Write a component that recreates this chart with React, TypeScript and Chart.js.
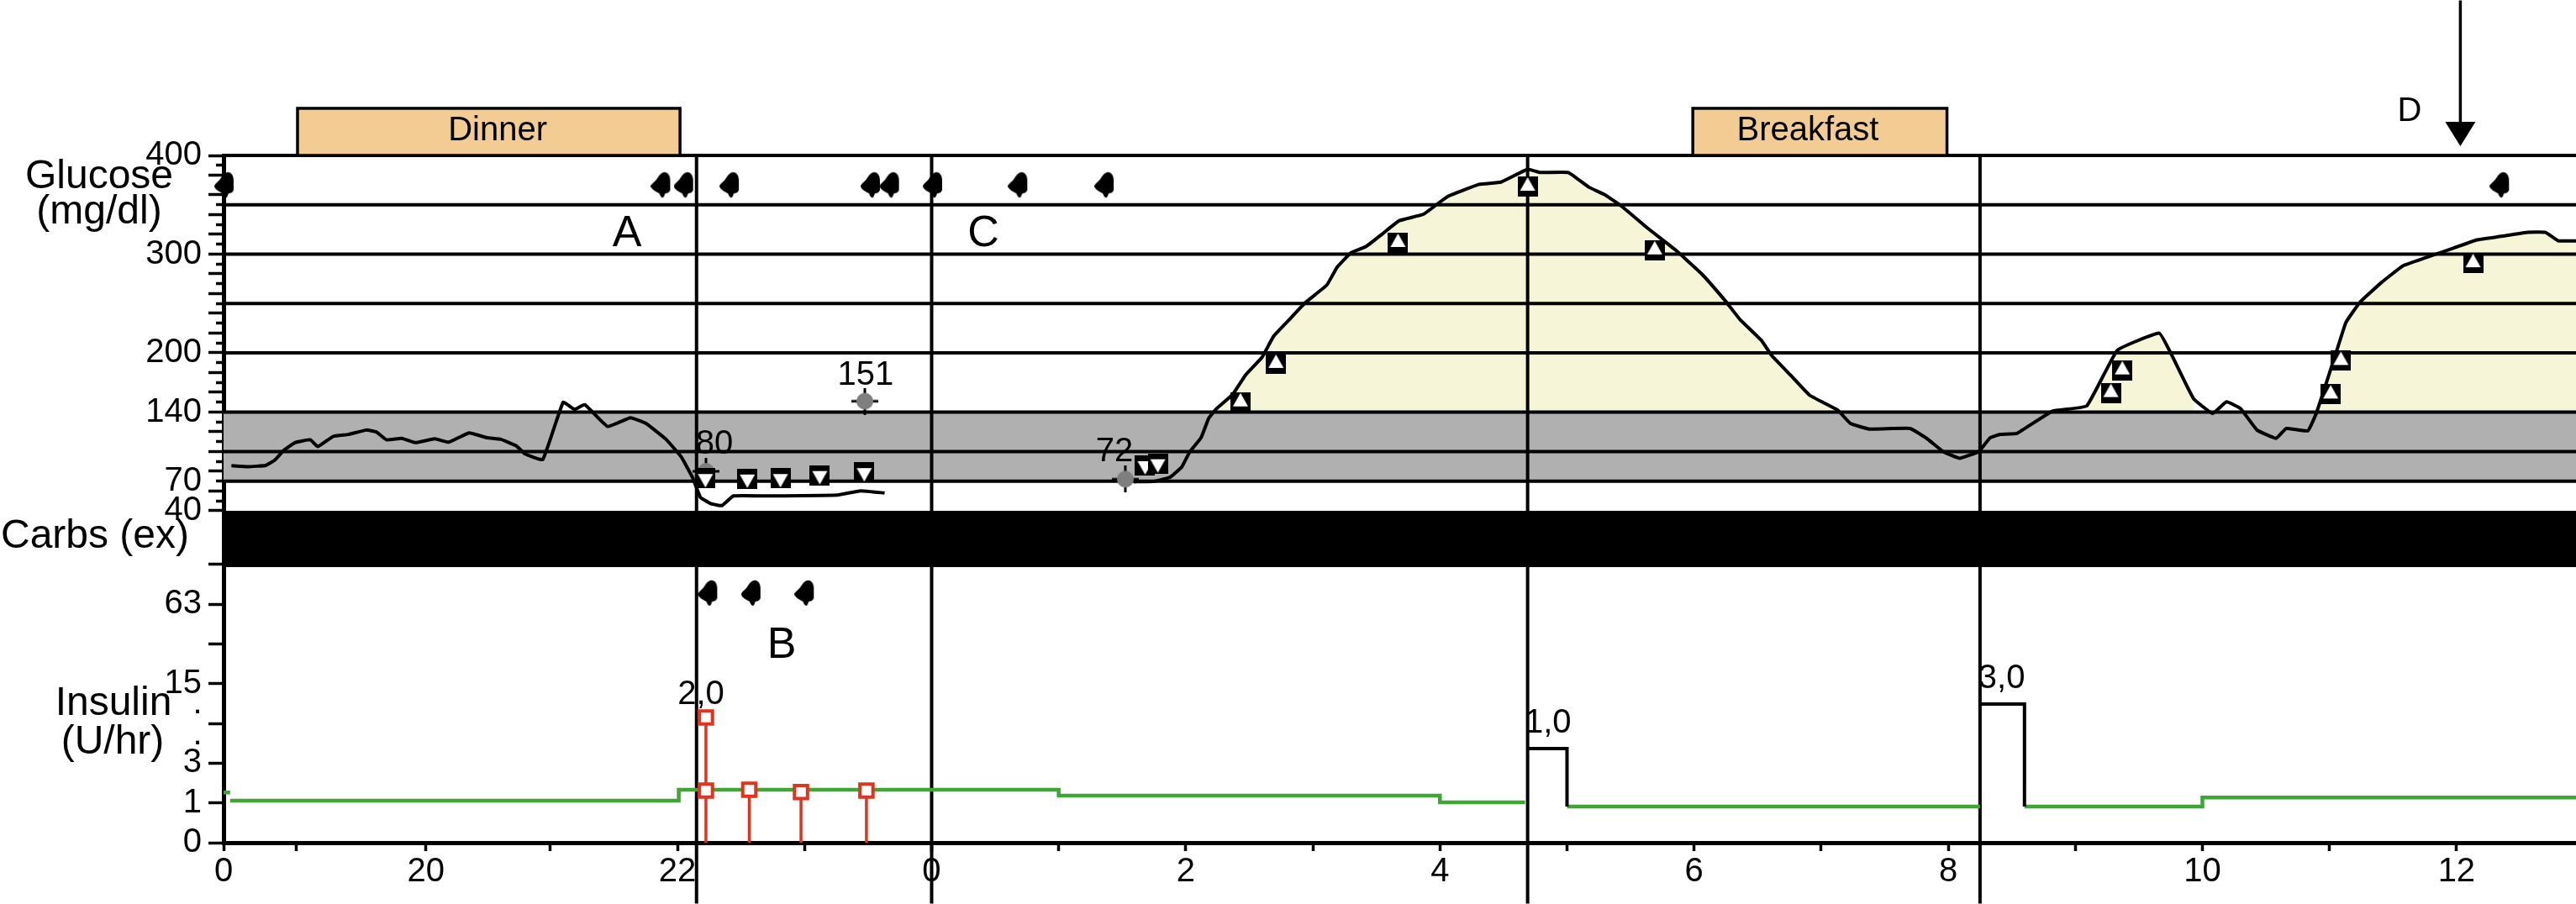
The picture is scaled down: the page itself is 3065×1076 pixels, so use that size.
import React, { useEffect, useRef } from "react";
import Chart from "chart.js/auto";

// ---- time axis (hours from midnight, negative = evening before) ----
const xStart = -5.572;
const xEnd = 12.94;
const xTickValues = [xStart, -5, -3.98, -3, -2, -1, 0, 1, 2, 3, 4, 5, 6, 7, 8, 9, 10, 11, 12];
const xTickLabels = ["0", "", "20", "", "22", "", "0", "", "2", "", "4", "", "6", "", "8", "", "10", "", "12"];

// ---- glucose axis ----
const glucoseLabelled = [400, 300, 200, 140, 70, 40];
const glucoseMajorTicks = [400, 380, 360, 340, 320, 300, 280, 260, 240, 220, 200, 180, 160, 140, 120, 100, 80, 70, 60, 40];
const glucoseMinorTicks = [390, 370, 350, 330, 310, 290, 270, 250, 230, 210, 190, 170, 150, 130, 110, 90, 70, 50];
const glucoseGridLines = [400, 350, 300, 250, 200, 140, 100, 70];

// ---- insulin axis (2^n - 1 steps) ----
const insulinTickValues = [0, 1, 3, 7, 15, 31, 63, 127];
const insulinTickLabels = ["0", "1", "3", "", "15", "", "63", ""];

// ---- CGM trace ----
const cgmHoursA = [-5.51, -5.38, -5.24, -5.17, -5.1, -5.01, -4.89, -4.83, -4.71, -4.59, -4.45, -4.37, -4.29, -4.17, -4.06, -3.91, -3.8, -3.64, -3.5, -3.39, -3.27, -3.2, -3.06, -2.9, -2.81, -2.73, -2.55, -2.37, -2.25, -2.09, -1.97, -1.88, -1.82, -1.74, -1.65, -1.56, -1.3, -0.74, -0.56, -0.37];
const cgmValuesA = [85.7, 84.7, 86, 91.2, 101, 109, 112, 105, 115.3, 117.3, 121.8, 119.9, 112, 113.4, 109.1, 113, 109.5, 119, 114, 112.4, 105.9, 97.7, 91.9, 149.9, 142.7, 147.6, 125.4, 134.2, 128.7, 112.4, 94.5, 73.3, 53.8, 47.3, 45.3, 55.1, 55.1, 56, 60.3, 58];
const cgmHoursB = [1.59, 1.76, 1.88, 1.97, 2.03, 2.12, 2.18, 2.24, 2.37, 2.47, 2.6, 2.69, 2.81, 2.94, 3.11, 3.19, 3.3, 3.42, 3.55, 3.68, 3.87, 4.06, 4.31, 4.48, 4.69, 4.79, 5.01, 5.17, 5.3, 5.43, 5.64, 5.85, 6.06, 6.25, 6.36, 6.53, 6.61, 6.76, 6.91, 7.13, 7.23, 7.38, 7.7, 7.83, 7.96, 8.09, 8.24, 8.33, 8.41, 8.54, 8.82, 9.09, 9.33, 9.66, 9.76, 9.93, 10.08, 10.19, 10.3, 10.43, 10.58, 10.66, 10.83, 10.9, 11.07, 11.13, 11.24, 11.41, 11.58, 11.8, 11.97, 12.16, 12.35, 12.55, 12.7, 12.8, 12.94];
const cgmValuesB = [69.4, 70, 74.3, 84.7, 99.4, 114, 133.6, 143.3, 158, 177.5, 195.5, 216.6, 233, 250.8, 268.7, 286.6, 301.3, 307.8, 320.8, 333.9, 340.4, 358.3, 370.7, 373, 386, 382.7, 382.7, 368, 360, 348.5, 325.7, 304.6, 280, 252, 234, 212.6, 197.4, 177.3, 157, 142, 128.5, 122.8, 123.4, 113.4, 100, 93.2, 100, 114, 117.4, 118.4, 141, 146.3, 202.5, 220, 197.4, 153.7, 138.6, 150.4, 143.6, 121.8, 113.4, 123.4, 121, 140, 207.5, 231, 251.3, 271.4, 288.3, 298.4, 305.8, 314.5, 318, 322, 322, 313.5, 313.5];
const excursionRanges = [[2.24, 7.13], [9.09, 9.93], [10.9, 12.94]];

// ---- meter readings ----
const upHours = [2.43, 2.71, 3.67, 4.69, 5.69, 9.28, 9.37, 11.01, 11.09, 12.13];
const upValues = [150, 189, 311.5, 368.5, 304, 159.5, 182.4, 158, 192, 291];
const downHours = [-1.78, -1.45, -1.19, -0.88, -0.53, 1.68, 1.78];
const downValues = [73, 72.5, 73, 76, 79, 86, 88];
const labHours = [-1.776, -0.526, 1.524];
const labValues = [80, 151, 72];

// ---- drop symbols ----
const dropHoursTop = [-5.566, -2.13, -1.95, -1.59, -0.48, -0.33, 0.01, 0.68, 1.36, 12.34];
const dropGlucoseLevel = 370;
const dropHoursLow = [-1.76, -1.42, -1.0];
const dropInsulinLevel = 76.7;

// ---- insulin ----
const basalHours = [xStart, -5.52, null, -5.52, -1.99, -1.99, 1, 1, 4, 4, 4.67, null, 5, 8.25, null, 8.6, 10, 10, xEnd];
const basalRates = [1.4, 1.4, null, 1.08, 1.08, 1.52, 1.52, 1.27, 1.27, 1.02, 1.02, null, 0.88, 0.88, null, 0.88, 0.88, 1.2, 1.2];
const bolusHours = [-1.776, -1.776, -1.435, -1.028, -0.513];
const bolusDoses = [7.88, 1.48, 1.52, 1.42, 1.48];
const pulseHours = [4.69, 5, 5, null, 8.25, 8.6, 8.6];
const pulseRates = [4.16, 4.16, 0.88, null, 10.2, 10.2, 0.88];
const pulseLabels = ["1,0", "3,0"];
const pulseLabelHours = [4.85, 8.42];
const pulseLabelRates = [4.16, 10.2];

// ---- event markers ----
const verticalHours = [-1.85, 0, 4.69, 8.25];
const mealNames = ["Dinner", "Breakfast"];
const mealStart = [-4.99, 5.99];
const mealEnd = [-1.98, 7.99];
const mealLabelHour = [-3.415, 6.895];
const arrowHour = 12.03;

const FONT = "'Liberation Sans', Arial, sans-serif";
const toLane = (u: number) => Math.log2(u + 1);
const GLUCOSE_MIN = -296.2;
const LANE_MAX = 17.29;
const GLUCOSE_CANVAS_BOTTOM = -358;
const GLUCOSE_CANVAS_TOP = 557;

function pairs(xs: (number | null)[], ys: (number | null)[], f: (v: number) => number = (v) => v) {
  return xs.map((x, i) => {
    const y = ys[i];
    return x === null || y === null ? { x: 0, y: null } : { x, y: f(y) };
  });
}

function glyph(w: number, h: number, draw: (c: CanvasRenderingContext2D) => void) {
  const cv = document.createElement("canvas");
  cv.width = w;
  cv.height = h;
  draw(cv.getContext("2d") as CanvasRenderingContext2D);
  return cv;
}

const annotationPlugin = {
  id: "annotations",
  afterLayout(chart: any) {
    // label-bearing axes share the left gutter: let the insulin labels paint in it
    chart.scales.insulin.left = 0;
  },
  afterDatasetsDraw(chart: any) {
    const { ctx, scales } = chart;
    const x = scales.x;
    const g = scales.glucose;
    const lane = scales.insulin;
    ctx.save();
    ctx.fillStyle = "#000";
    ctx.textAlign = "center";
    ctx.textBaseline = "middle";

    // arrow head (above the plot area, so points would not paint there)
    const ax = x.getPixelForValue(arrowHour);
    const tip = g.getPixelForValue(409.4);
    const base = g.getPixelForValue(434);
    ctx.beginPath();
    ctx.moveTo(ax - 18, base);
    ctx.lineTo(ax + 18, base);
    ctx.lineTo(ax, tip);
    ctx.closePath();
    ctx.fill();

    // meal boxes
    mealNames.forEach((name, i) => {
      const l = x.getPixelForValue(mealStart[i]);
      const r = x.getPixelForValue(mealEnd[i]);
      const t = g.getPixelForValue(447.7);
      const b = g.getPixelForValue(400);
      ctx.fillStyle = "#F2CC93";
      ctx.fillRect(l, t, r - l, b - t);
      ctx.strokeStyle = "#000";
      ctx.lineWidth = 3.5;
      ctx.strokeRect(l, t, r - l, b - t);
      ctx.fillStyle = "#000";
      ctx.font = `40px ${FONT}`;
      ctx.fillText(name, x.getPixelForValue(mealLabelHour[i]), (t + b) / 2 - 1);
    });

    // axis titles
    ctx.font = `48px ${FONT}`;
    ctx.fillText("Glucose", 118, 211);
    ctx.fillText("(mg/dl)", 118, 253);
    ctx.fillText("Carbs (ex)", 113, 639);
    ctx.fillText("Insulin", 135, 838);
    ctx.fillText("(U/hr)", 134, 884);

    // the two dots on the unlabelled insulin tick
    ctx.font = `40px ${FONT}`;
    ctx.fillText(".", 235, 838);
    ctx.fillText(".", 235, 875);

    // reference letters
    ctx.font = `52px ${FONT}`;
    ctx.fillText("A", 746, 279);
    ctx.fillText("B", 930, 769);
    ctx.fillText("C", 1170, 279);
    ctx.font = `40px ${FONT}`;
    ctx.fillText("D", 2867, 133);

    // lab values above their points
    ctx.font = `40px ${FONT}`;
    const labOffsets = [[10, -32], [1, -31], [-13, -32]];
    labValues.forEach((v, i) => {
      ctx.fillText(String(v), x.getPixelForValue(labHours[i]) + labOffsets[i][0], g.getPixelForValue(v) + labOffsets[i][1]);
    });

    // bolus / pulse labels
    ctx.fillText("2,0", x.getPixelForValue(bolusHours[0]) - 6, lane.getPixelForValue(toLane(bolusDoses[0])) - 27);
    pulseLabels.forEach((t, i) => {
      ctx.fillText(t, x.getPixelForValue(pulseLabelHours[i]), lane.getPixelForValue(toLane(pulseLabelRates[i])) - 30);
    });
    ctx.restore();
  },
};

export default function App() {
  const ref = useRef<HTMLCanvasElement | null>(null);

  useEffect(() => {
    const upMark = glyph(24, 24, (c) => {
      c.fillStyle = "#000";
      c.fillRect(0, 0, 24, 24);
      c.fillStyle = "#fff";
      c.beginPath();
      c.moveTo(12, 1);
      c.lineTo(21, 17);
      c.lineTo(3, 17);
      c.closePath();
      c.fill();
    });
    const downMark = glyph(24, 24, (c) => {
      c.fillStyle = "#000";
      c.fillRect(0, 0, 24, 24);
      c.fillStyle = "#fff";
      c.beginPath();
      c.moveTo(12, 23);
      c.lineTo(21, 7);
      c.lineTo(3, 7);
      c.closePath();
      c.fill();
    });
    const labMark = glyph(32, 32, (c) => {
      c.fillStyle = "#000";
      c.fillRect(14.5, 0, 3, 32);
      c.fillRect(0, 14.5, 32, 3);
      c.fillStyle = "#7F7F7F";
      c.beginPath();
      c.arc(16, 16, 10, 0, Math.PI * 2);
      c.fill();
    });
    const dropMark = glyph(24, 32, (c) => {
      c.fillStyle = "#000";
      c.beginPath();
      c.moveTo(15, 1);
      c.bezierCurveTo(20, 0, 23, 5, 23, 10);
      c.lineTo(23, 22);
      c.bezierCurveTo(22, 25, 19, 26, 17, 26);
      c.bezierCurveTo(16, 29, 15, 31, 14, 31);
      c.bezierCurveTo(12, 31, 11, 28, 10, 26);
      c.bezierCurveTo(6, 24, 0, 21, 0, 17);
      c.bezierCurveTo(1, 14, 5, 12, 7, 9);
      c.bezierCurveTo(9, 6, 11, 2, 15, 1);
      c.closePath();
      c.fill();
    });

    const hLineData: any[] = [];
    glucoseGridLines.forEach((v) => {
      hLineData.push({ x: xStart, y: v }, { x: xEnd, y: v }, { x: xEnd, y: null });
    });
    const vLineData: any[] = [];
    verticalHours.forEach((h) => {
      vLineData.push({ x: h, y: GLUCOSE_CANVAS_BOTTOM }, { x: h, y: 400 }, { x: h, y: null });
    });
    const stemData: any[] = [];
    bolusHours.forEach((h, i) => {
      stemData.push({ x: h, y: 0 }, { x: h, y: toLane(bolusDoses[i]) }, { x: h, y: null });
    });
    const cgmAll = [...cgmHoursB.map((h, i) => ({ x: h, y: cgmValuesB[i] }))];
    const excursionData = cgmAll.map((p) =>
      excursionRanges.some(([a, b]) => p.x >= a && p.x <= b) ? p : { x: p.x, y: null }
    );

    const hidden = { pointRadius: 0, pointHoverRadius: 0, clip: false as const, tension: 0 };
    const smooth = { ...hidden, tension: 0.1 };
    const points = (data: any[], style: any, yAxisID: string, order: number, label: string) => ({
      label,
      data,
      yAxisID,
      order,
      showLine: false,
      pointStyle: style,
      pointRadius: 12,
      pointHoverRadius: 12,
      clip: false as const,
    });

    const chart = new Chart(ref.current as HTMLCanvasElement, {
      type: "line",
      data: {
        datasets: [
          { label: "Target range", data: [{ x: xStart, y: 140 }, { x: xEnd, y: 140 }], yAxisID: "glucose", order: 30, borderWidth: 0, backgroundColor: "#B0B0B0", fill: { value: 70 }, ...hidden },
          { label: "Carbs (ex)", data: [{ x: xStart, y: 40 }, { x: xEnd, y: 40 }], yAxisID: "glucose", order: 29, borderWidth: 0, backgroundColor: "#000", fill: { value: -17 }, ...hidden },
          { label: "Excursion", data: excursionData, yAxisID: "glucose", order: 28, borderWidth: 0, backgroundColor: "#F6F5D8", fill: { value: 140 }, ...smooth },
          { label: "Grid", data: hLineData, yAxisID: "glucose", order: 20, borderColor: "#000", borderWidth: 4, ...hidden },
          { label: "Events", data: vLineData, yAxisID: "glucose", order: 19, borderColor: "#000", borderWidth: 4, ...hidden },
          { label: "CGM evening", data: pairs(cgmHoursA, cgmValuesA), yAxisID: "glucose", order: 10, borderColor: "#000", borderWidth: 4, ...smooth },
          { label: "CGM night and day", data: cgmAll, yAxisID: "glucose", order: 10, borderColor: "#000", borderWidth: 4, ...smooth },
          { label: "Basal", data: pairs(basalHours, basalRates, toLane), yAxisID: "insulin", order: 9, borderColor: "#3FA535", borderWidth: 4.5, ...hidden },
          { label: "Meal bolus", data: pairs(pulseHours, pulseRates, toLane), yAxisID: "insulin", order: 8, borderColor: "#000", borderWidth: 4, ...hidden },
          { label: "Bolus stems", data: stemData, yAxisID: "insulin", order: 7, borderColor: "#E0341E", borderWidth: 3.5, ...hidden },
          { ...points(bolusHours.map((h, i) => ({ x: h, y: toLane(bolusDoses[i]) })), "rect", "insulin", 6, "Bolus"), pointRadius: 11, pointHoverRadius: 11, pointBackgroundColor: "#fff", pointBorderColor: "#E0341E", pointBorderWidth: 4 },
          points(pairs(labHours, labValues), labMark, "glucose", 5, "Lab"),
          points(pairs(upHours, upValues), upMark, "glucose", 3, "Meter high"),
          points(pairs(downHours, downValues), downMark, "glucose", 3, "Meter low"),
          points(dropHoursTop.map((h) => ({ x: h, y: dropGlucoseLevel })), dropMark, "glucose", 2, "Drops"),
          points(dropHoursLow.map((h) => ({ x: h, y: toLane(dropInsulinLevel) })), dropMark, "insulin", 2, "Drops low"),
          { label: "Arrow shaft", data: [{ x: arrowHour, y: GLUCOSE_CANVAS_TOP }, { x: arrowHour, y: 434 }], yAxisID: "glucose", order: 1, borderColor: "#000", borderWidth: 3.5, ...hidden },
        ] as any,
      },
      plugins: [annotationPlugin],
      options: {
        responsive: false,
        animation: false,
        events: [],
        layout: { autoPadding: false, padding: { top: 185, right: 0, bottom: 0, left: 0 } },
        plugins: { legend: { display: false }, tooltip: { enabled: false }, title: { display: false } },
        scales: {
          x: {
            type: "linear",
            min: xStart,
            max: xEnd,
            afterBuildTicks: (s: any) => {
              s.ticks = xTickValues.map((value) => ({ value }));
            },
            afterFit: (s: any) => {
              s.height = 73;
            },
            border: { display: true, color: "#000", width: 5 },
            grid: { display: true, drawOnChartArea: false, drawTicks: true, tickLength: 10, tickWidth: 3.5, tickColor: "#000" },
            ticks: {
              autoSkip: false,
              maxRotation: 0,
              padding: 1,
              color: "#000",
              font: { family: FONT, size: 40 },
              callback: (_v: any, i: number) => xTickLabels[i],
            },
          },
          glucose: {
            type: "linear",
            position: "left",
            weight: 2,
            min: GLUCOSE_MIN,
            max: 400,
            afterBuildTicks: (s: any) => {
              s.ticks = glucoseMajorTicks.map((value) => ({ value }));
            },
            afterFit: (s: any) => {
              s.width = 266;
            },
            border: { display: true, color: "#000", width: 5 },
            grid: {
              display: true,
              drawOnChartArea: false,
              drawTicks: true,
              tickLength: 18,
              tickWidth: 3.5,
              tickColor: (c: any) => (c.tick && c.tick.value === 70 ? "rgba(0,0,0,0)" : "#000"),
            },
            ticks: {
              autoSkip: false,
              padding: 8,
              color: "#000",
              font: { family: FONT, size: 40 },
              callback: (v: any) => (glucoseLabelled.includes(Number(v)) ? String(v) : ""),
            },
          },
          glucoseMinor: {
            type: "linear",
            position: "left",
            weight: 0,
            min: GLUCOSE_MIN,
            max: 400,
            afterBuildTicks: (s: any) => {
              s.ticks = glucoseMinorTicks.map((value) => ({ value }));
            },
            afterFit: (s: any) => {
              s.width = 0;
            },
            border: { display: false },
            grid: { display: true, drawOnChartArea: false, drawTicks: true, tickLength: 9, tickWidth: 3.5, tickColor: "#000" },
            ticks: { display: false, autoSkip: false },
          },
          insulin: {
            type: "linear",
            position: "left",
            weight: 0,
            min: 0,
            max: LANE_MAX,
            afterBuildTicks: (s: any) => {
              s.ticks = insulinTickValues.map((u) => ({ value: toLane(u) }));
            },
            afterFit: (s: any) => {
              s.width = 0;
            },
            border: { display: false },
            grid: { display: true, drawOnChartArea: false, drawTicks: true, tickLength: 18, tickWidth: 3.5, tickColor: "#000" },
            ticks: {
              autoSkip: false,
              padding: 8,
              color: "#000",
              font: { family: FONT, size: 40 },
              callback: (_v: any, i: number) => insulinTickLabels[i],
            },
          },
        },
      } as any,
    });
    return () => chart.destroy();
  }, []);

  return (
    <div style={{ position: "absolute", left: 0, top: 0, width: 3065, height: 1076 }}>
      <canvas ref={ref} width={3065} height={1076} style={{ display: "block" }} />
    </div>
  );
}
